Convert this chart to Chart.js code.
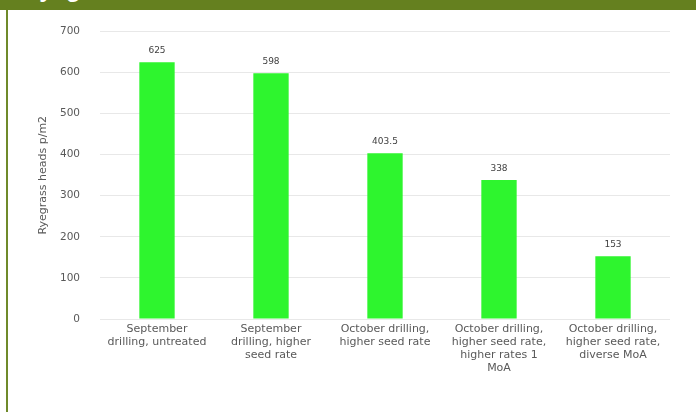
<!DOCTYPE html>
<html>
<head>
<meta charset="utf-8">
<script src="https://cdn.jsdelivr.net/npm/chart.js@4.4.0/dist/chart.umd.min.js"></script>
<style>
  html, body { margin: 0; padding: 0; background: #fff; }
  body { width: 696px; height: 412px; position: relative; overflow: hidden; }
  .wrap { position: absolute; left: 10px; top: 5px; width: 686px; height: 407px; }
  .header { position: absolute; left: 0; top: 0; width: 696px; height: 10px; background: #65801f; overflow: hidden; }
  .header span { position: absolute; left: 22px; top: -25px; color: #fff; font: bold 24px "Liberation Sans", Arial, sans-serif; }
  .edge { position: absolute; left: 6px; top: 10px; width: 2px; height: 402px; background: #6f8a2a; }
</style>
</head>
<body>
<div class="wrap"><canvas id="chart"></canvas></div>
<div class="header"><span>Ryegrass</span></div>
<div class="edge"></div>
<script>
document.addEventListener('DOMContentLoaded', function() {
    // categories and values
    const categories = [
        ['September', 'drilling, untreated'],
        ['September', 'drilling, higher', 'seed rate'],
        ['October drilling,', 'higher seed rate'],
        ['October drilling,', 'higher seed rate,', 'higher rates 1', 'MoA'],
        ['October drilling,', 'higher seed rate,', 'diverse MoA']
    ];
    const heads = [625, 598, 403.5, 338, 153];
    const yTicks = [0, 100, 200, 300, 400, 500, 600, 700];

    const textGrey = '#595959';
    const fontFamily = '"DejaVu Sans", sans-serif';

    // value labels above each bar
    const valueLabels = {
        id: 'valueLabels',
        afterDatasetsDraw(chart) {
            const ctx = chart.ctx;
            const meta = chart.getDatasetMeta(0);
            ctx.save();
            ctx.font = '9px ' + fontFamily;
            ctx.fillStyle = '#404040';
            ctx.textAlign = 'center';
            ctx.textBaseline = 'bottom';
            meta.data.forEach((bar, i) => {
                ctx.fillText(String(heads[i]), bar.x, bar.y - 7);
            });
            ctx.restore();
        }
    };

    const ctx = document.getElementById('chart').getContext('2d');
    new Chart(ctx, {
        type: 'bar',
        data: {
            labels: categories,
            datasets: [{
                label: 'Ryegrass heads p/m2',
                data: heads,
                backgroundColor: '#2ef52e',
                barPercentage: 0.62,
                categoryPercentage: 0.5
            }]
        },
        options: {
            responsive: true,
            maintainAspectRatio: false,
            animation: false,
            layout: { padding: { top: 0, right: 26, bottom: 41, left: 27 } },
            plugins: {
                legend: { display: false },
                tooltip: { enabled: false }
            },
            scales: {
                x: {
                    grid: { display: false },
                    border: { display: false },
                    ticks: {
                        color: textGrey,
                        font: { family: fontFamily, size: 11, lineHeight: 1.18 },
                        maxRotation: 0,
                        autoSkip: false,
                        padding: -4
                    }
                },
                y: {
                    min: 0,
                    max: 700,
                    afterBuildTicks: axis => { axis.ticks = yTicks.map(v => ({ value: v })); },
                    afterFit: axis => { axis.width = 63; },
                    grid: { color: '#e8e8e8', drawTicks: false },
                    border: { display: false },
                    ticks: {
                        color: textGrey,
                        font: { family: fontFamily, size: 10.5 },
                        padding: 20
                    },
                    title: {
                        display: true,
                        text: 'Ryegrass heads p/m2',
                        color: textGrey,
                        font: { family: fontFamily, size: 11 },
                        padding: 0
                    }
                }
            }
        },
        plugins: [valueLabels]
    });
});
</script>
</body>
</html>
